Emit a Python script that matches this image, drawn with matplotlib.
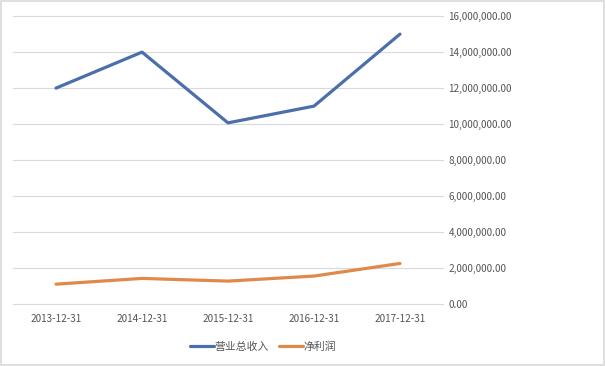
import matplotlib.pyplot as plt
from matplotlib.ticker import FuncFormatter

plt.rcParams['font.family'] = ['Noto Sans CJK SC', 'DejaVu Sans']

# 数据
dates = ['2013-12-31', '2014-12-31', '2015-12-31', '2016-12-31', '2017-12-31']
revenue = [12000000, 14000000, 10070000, 11000000, 15000000]
net_profit = [1110000, 1430000, 1280000, 1560000, 2260000]

fig = plt.figure(figsize=(6.05, 3.66), dpi=100)
ax = fig.add_axes([0.0215, 0.169, 0.7107, 0.787])

x = range(len(dates))
ax.plot(x, revenue, color='#4A6FAA', lw=2.3, label='营业总收入', solid_capstyle='round')
ax.plot(x, net_profit, color='#DF8A48', lw=2.3, label='净利润', solid_capstyle='round')

ax.set_xlim(-0.5, len(dates) - 0.5)
ax.set_ylim(0, 16000000)
ax.set_yticks(range(0, 16000001, 2000000))
ax.yaxis.set_major_formatter(FuncFormatter(lambda v, p: f'{v:,.2f}'))
ax.yaxis.tick_right()
ax.set_xticks(list(x))
ax.set_xticklabels(dates)
ax.tick_params(axis='both', length=0, labelsize=7.2, colors='#555555')
ax.tick_params(axis='y', pad=4)
ax.tick_params(axis='x', pad=7)
ax.grid(axis='y', color='#d9d9d9', lw=0.8)
for gl in ax.get_ygridlines():
    gl.set_clip_on(False)
ax.set_axisbelow(True)
for s in ax.spines.values():
    s.set_visible(False)

fig.legend(loc='center', bbox_to_anchor=(0.435, 0.052), ncol=2, frameon=False,
           fontsize=7.8, labelcolor='#555555', handlelength=2.2, handletextpad=0.1,
           columnspacing=0.9)

# 外框
fig.patches.append(plt.Rectangle((0.002, 0.003), 0.996, 0.994, transform=fig.transFigure,
                                 fill=False, edgecolor='#d9d9d9', lw=1.2))

fig.savefig('out.png', dpi=100)
